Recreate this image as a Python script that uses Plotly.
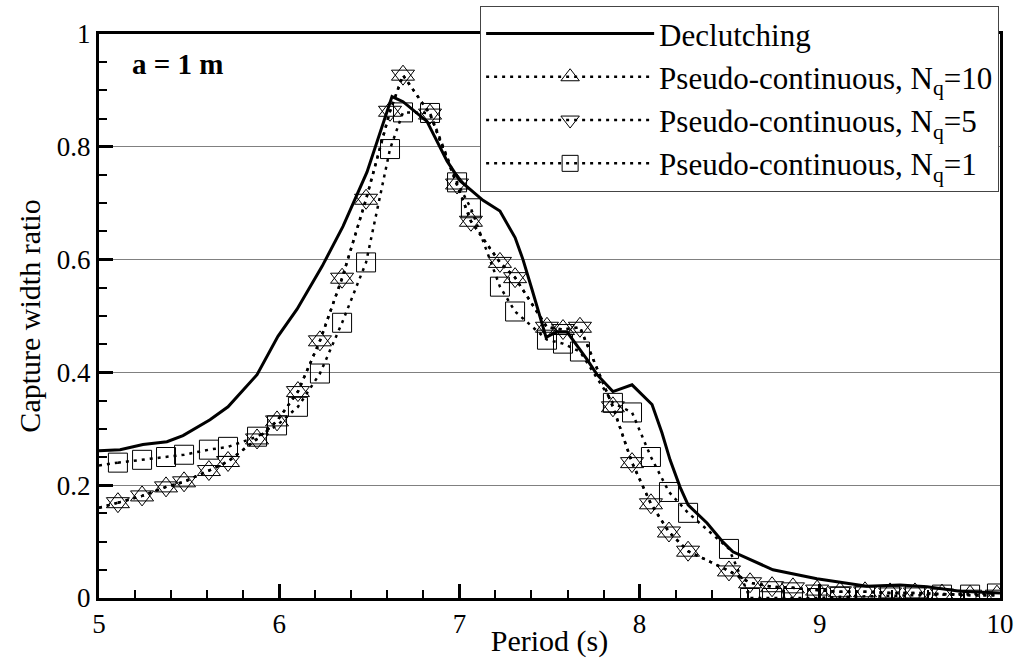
import plotly.graph_objects as go

# ---------------- data ----------------
# Declutching (solid line)
decl_period = [5.000, 5.117, 5.244, 5.377, 5.466, 5.616, 5.716, 5.877, 5.993, 6.099,
               6.238, 6.354, 6.487, 6.626, 6.687, 6.820, 6.931, 7.003, 7.131, 7.225,
               7.309, 7.353, 7.403, 7.447, 7.481, 7.542, 7.597, 7.708, 7.764, 7.852,
               7.958, 8.069, 8.124, 8.169, 8.224, 8.269, 8.374, 8.463, 8.518, 8.740,
               8.984, 9.262, 9.445, 9.595, 9.778, 10.000]
decl_cwr = [0.261, 0.263, 0.272, 0.277, 0.288, 0.316, 0.339, 0.396, 0.464, 0.512,
            0.588, 0.659, 0.755, 0.889, 0.880, 0.845, 0.775, 0.740, 0.705, 0.686,
            0.639, 0.600, 0.547, 0.499, 0.462, 0.472, 0.472, 0.423, 0.396, 0.366,
            0.378, 0.343, 0.293, 0.245, 0.197, 0.165, 0.133, 0.099, 0.082, 0.050,
            0.034, 0.021, 0.023, 0.020, 0.012, 0.009]

# Pseudo-continuous series (marker periods shared)
pc_period = [5.105, 5.239, 5.372, 5.472, 5.610, 5.716, 5.877, 5.988, 6.104, 6.226,
             6.349, 6.482, 6.615, 6.687, 6.837, 6.987, 7.064, 7.225, 7.309, 7.486,
             7.575, 7.669, 7.852, 7.958, 8.063, 8.163, 8.269, 8.496, 8.613, 8.735,
             8.851, 8.985, 9.112, 9.251, 9.390, 9.528, 9.678, 9.834, 9.983]
nq10_cwr = [0.169, 0.181, 0.197, 0.206, 0.226, 0.242, 0.282, 0.314, 0.366, 0.456,
            0.567, 0.707, 0.863, 0.927, 0.858, 0.734, 0.668, 0.595, 0.568, 0.480,
            0.476, 0.480, 0.339, 0.240, 0.167, 0.117, 0.083, 0.048, 0.027, 0.020,
            0.018, 0.014, 0.011, 0.011, 0.009, 0.009, 0.007, 0.005, 0.005]
nq5_cwr = [0.169, 0.181, 0.197, 0.206, 0.226, 0.242, 0.282, 0.314, 0.366, 0.456,
           0.567, 0.707, 0.863, 0.927, 0.858, 0.734, 0.668, 0.595, 0.568, 0.480,
           0.476, 0.480, 0.339, 0.240, 0.167, 0.117, 0.083, 0.048, 0.027, 0.020,
           0.018, 0.014, 0.011, 0.011, 0.009, 0.009, 0.007, 0.005, 0.005]
nq1_cwr = [0.240, 0.245, 0.250, 0.254, 0.263, 0.268, 0.286, 0.306, 0.339, 0.398,
           0.488, 0.595, 0.796, 0.861, 0.860, 0.737, 0.691, 0.552, 0.508, 0.458,
           0.451, 0.437, 0.346, 0.329, 0.250, 0.188, 0.151, 0.087, 0.000, 0.000,
           0.000, 0.000, 0.002, 0.003, 0.004, 0.005, 0.006, 0.006, 0.008]

# values of the dotted curves at the left edge (T = 5 s)
start_period = 5.0
nq10_start = 0.160
nq5_start = 0.160
nq1_start = 0.235

series_names = ["Declutching",
                "Pseudo-continuous, N<sub>q</sub>=10",
                "Pseudo-continuous, N<sub>q</sub>=5",
                "Pseudo-continuous, N<sub>q</sub>=1"]

x_ticks = [5, 6, 7, 8, 9, 10]
y_ticks = [0, 0.2, 0.4, 0.6, 0.8, 1]

# ---------------- figure ----------------
FONT = "Liberation Serif"
DOT = "3px,5px"

fig = go.Figure()

fig.add_trace(go.Scatter(
    x=decl_period, y=decl_cwr, mode="lines", name=series_names[0],
    line=dict(color="black", width=3)))

pc = [(nq10_cwr, nq10_start, "triangle-up-open", 20, series_names[1]),
      (nq5_cwr, nq5_start, "triangle-down-open", 20, series_names[2]),
      (nq1_cwr, nq1_start, "square-open", 19, series_names[3])]

for vals, start, sym, size, name in pc:
    # short leading segment of dotted curve (no marker)
    fig.add_trace(go.Scatter(
        x=[start_period, pc_period[0]], y=[start, vals[0]], mode="lines",
        line=dict(color="black", width=2.5, dash=DOT), showlegend=False,
        hoverinfo="skip"))
    fig.add_trace(go.Scatter(
        x=pc_period, y=vals, mode="lines+markers", name=name,
        line=dict(color="black", width=2.5, dash=DOT),
        marker=dict(symbol=sym, size=size, color="black",
                    line=dict(color="black", width=1))))

axis_common = dict(
    showline=True, linecolor="black", linewidth=3, mirror=True,
    ticks="inside", tickcolor="black", tickwidth=3, ticklen=14,
    tickfont=dict(family=FONT, size=27, color="black"),
    zeroline=False,
)

fig.update_xaxes(
    range=[5, 10], tickvals=x_ticks, showgrid=False,
    minor=dict(dtick=0.2, ticks="inside", ticklen=8, tickwidth=1.5,
               tickcolor="black", showgrid=False),
    title=dict(text="Period (s)", font=dict(family=FONT, size=30, color="black"),
               standoff=0),
    **axis_common)
fig.update_yaxes(
    range=[0, 1], tickvals=y_ticks, showgrid=True, gridcolor="#808080",
    gridwidth=1,
    minor=dict(dtick=0.05, ticks="inside", ticklen=8, tickwidth=1.5,
               tickcolor="black", showgrid=False),
    title=dict(text="Capture width ratio",
               font=dict(family=FONT, size=30, color="black"), standoff=8),
    **axis_common)

fig.add_annotation(
    text="<b>a = 1 m</b>", xref="paper", yref="paper", x=0.034, y=0.947,
    xanchor="left", yanchor="middle", showarrow=False,
    font=dict(family=FONT, size=29, color="black"))

fig.update_layout(
    width=1020, height=658,
    margin=dict(l=99, r=20, t=34, b=60, autoexpand=False),
    paper_bgcolor="white", plot_bgcolor="white",
    font=dict(family=FONT, color="black"),
    showlegend=True,
    legend=dict(
        x=0.423, y=1.05, xanchor="left", yanchor="top",
        bgcolor="white", bordercolor="#444444", borderwidth=1,
        font=dict(family=FONT, size=31, color="black"),
        itemwidth=168, tracegroupgap=0,
    ),
)

fig.write_html("out.html",
               config={"displayModeBar": False},
               post_script="document.body.style.margin='0';"
                           "document.body.style.overflow='hidden';")
